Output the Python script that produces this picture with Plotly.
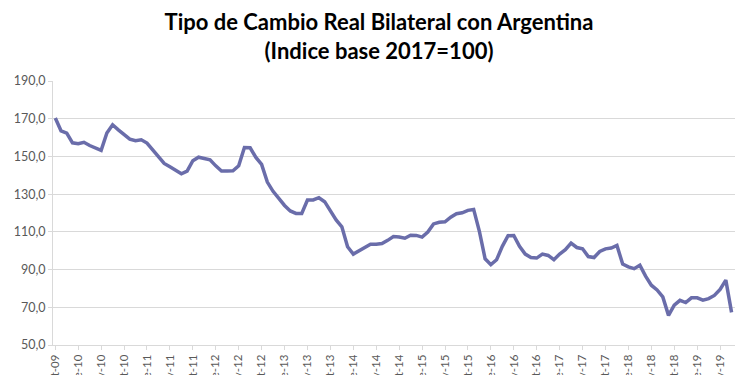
import plotly.graph_objects as go

# Monthly categories: set-09 .. jul-19
month_abbr = ["ene", "feb", "mar", "abr", "may", "jun", "jul", "ago", "set", "oct", "nov", "dic"]
months = []
y, m = 2009, 8
for _ in range(119):
    months.append(f"{month_abbr[m]}-{y % 100:02d}")
    m += 1
    if m == 12:
        m = 0
        y += 1

tcr = [
    170.4, 163.6, 162.4, 157.2, 156.7, 157.5, 155.8, 154.4, 153.2, 162.4,
    166.8, 164.1, 161.5, 159.2, 158.3, 158.8, 157.1, 153.5, 149.4, 146.3,
    144.5, 142.8, 140.8, 142.2, 147.7, 149.6, 148.7, 148.2, 145.0, 142.3,
    142.3, 142.4, 145.0, 154.7, 154.6, 149.5, 145.8, 136.4, 131.5, 127.6,
    124.0, 121.1, 119.8, 119.8, 126.9, 126.9, 128.1, 126.0, 120.7, 116.3,
    112.7, 102.1, 98.2, 99.9, 101.8, 103.4, 103.4, 103.8, 105.5, 107.5,
    107.3, 106.6, 108.2, 108.1, 107.2, 109.9, 114.2, 115.1, 115.3, 117.8,
    119.6, 120.1, 121.4, 121.9, 110.3, 95.7, 92.6, 95.2, 102.3, 108.0,
    108.1, 102.3, 98.2, 96.4, 96.1, 98.2, 97.5, 95.2, 98.2, 100.5,
    104.0, 101.7, 101.0, 96.9, 96.4, 99.6, 101.0, 101.4, 102.8, 92.9,
    91.4, 90.5, 92.3, 86.5, 81.7, 79.2, 75.5, 65.7, 71.1, 73.7,
    72.5, 75.0, 75.0, 73.8, 74.6, 76.3, 79.5, 84.4, 67.3,
]

tick_labels = [
    "set-09", "ene-10", "may-10", "set-10", "ene-11", "may-11", "set-11", "ene-12",
    "may-12", "set-12", "ene-13", "may-13", "set-13", "ene-14", "may-14", "set-14",
    "ene-15", "may-15", "set-15", "ene-16", "may-16", "set-16", "ene-17", "may-17",
    "set-17", "ene-18", "may-18", "set-18", "ene-19", "may-19",
]
y_ticks = [50, 70, 90, 110, 130, 150, 170, 190]

fig = go.Figure()
fig.add_trace(go.Scatter(
    x=months, y=tcr, mode="lines",
    line=dict(color="#6A6DAA", width=3.5),
    hoverinfo="x+y", showlegend=False,
))

grid = "#d9d9d9"
tickfont = dict(family="Lato, Calibri, sans-serif", size=12.5, color="#595959")
xtickfont = dict(family="Lato, Calibri, sans-serif", size=11.5, color="#595959")

fig.update_layout(
    width=742, height=367,
    margin=dict(l=45, r=15, t=73, b=30, autoexpand=False),
    paper_bgcolor="white", plot_bgcolor="white",
    separators=",.",
    title=dict(
        text="Tipo de Cambio Real Bilateral con Argentina<br>(Indice base 2017=100)",
        x=0.5, xanchor="center", yref="container", y=0.94, yanchor="top",
        automargin=False,
        font=dict(family="Lato, Calibri, sans-serif", size=22, color="#000000", weight="bold"),
    ),
    xaxis=dict(
        type="category", range=[-0.4, 118.6], automargin=False,
        tickmode="array", tickvals=tick_labels, ticktext=tick_labels,
        tickangle=-90, tickfont=xtickfont,
        showgrid=False, showline=True, linecolor=grid, linewidth=1,
        ticks="outside", ticklen=4, tickcolor=grid, zeroline=False,
    ),
    yaxis=dict(
        range=[50, 190], tickmode="array", tickvals=y_ticks, tickformat=".1f",
        automargin=False,
        tickfont=tickfont, showgrid=True, gridcolor=grid, gridwidth=1,
        showline=True, linecolor=grid, linewidth=1,
        ticks="outside", ticklen=4, tickcolor=grid, zeroline=False,
    ),
    shapes=[dict(type="line", xref="paper", yref="paper", x0=1.0132, x1=1.0132,
                 y0=-0.2, y1=1.4, line=dict(color=grid, width=1))],
)

fig.write_html("out.html")
